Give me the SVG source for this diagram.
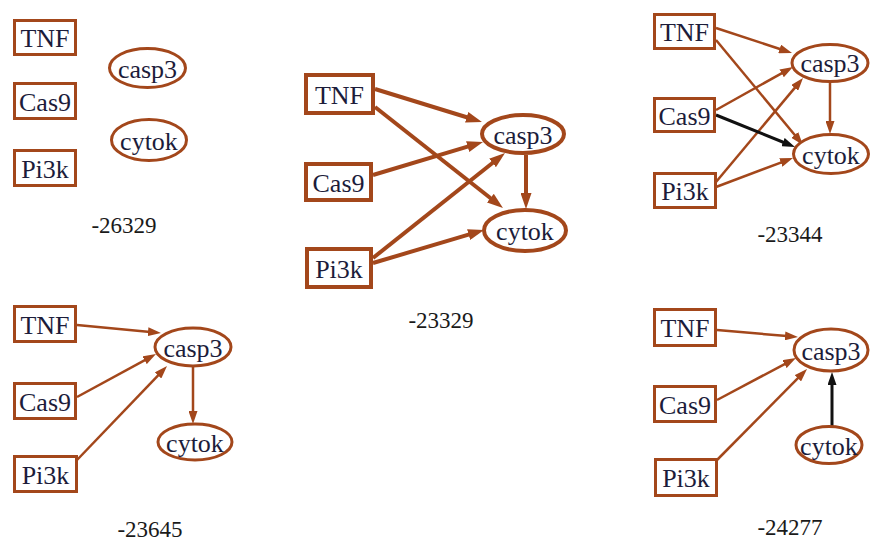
<svg xmlns="http://www.w3.org/2000/svg" width="870" height="541" viewBox="0 0 870 541">
  <defs>
    <style>
      .box { fill: #ffffff; stroke: #a3471b; stroke-width: 3; }
      .oval { fill: #ffffff; stroke: #a3471b; stroke-width: 3; }
      .box.big, .oval.big { stroke-width: 4; }
      text { font-family: 'Liberation Serif', 'Times New Roman', serif; }
      .lbl { font-size: 26px; fill: #1c1c3a; text-anchor: middle; }
      .score { font-size: 23px; fill: #1a1a1a; text-anchor: middle; }
      .edge { fill: none; stroke: #a3471b; stroke-width: 2.5; marker-end: url(#tip); }
      .edge.big { stroke-width: 4; marker-end: url(#tipBig); }
      .edge.dark { stroke: #111111; stroke-width: 3; marker-end: url(#tipDark); }
    </style>
    <marker id="tip" markerUnits="userSpaceOnUse" viewBox="0 0 13 9" markerWidth="13" markerHeight="9" refX="5" refY="4.5" orient="auto">
      <path d="M0,0 L13,4.5 L0,9 z" fill="#a3471b"/>
    </marker>
    <marker id="tipBig" markerUnits="userSpaceOnUse" viewBox="0 0 16 11" markerWidth="16" markerHeight="11" refX="6" refY="5.5" orient="auto">
      <path d="M0,0 L16,5.5 L0,11 z" fill="#a3471b"/>
    </marker>
    <marker id="tipDark" markerUnits="userSpaceOnUse" viewBox="0 0 13 9" markerWidth="13" markerHeight="9" refX="5" refY="4.5" orient="auto">
      <path d="M0,0 L13,4.5 L0,9 z" fill="#111111"/>
    </marker>
  </defs>

  <rect x="0" y="0" width="870" height="541" fill="#ffffff"/>

  <!-- connectors -->
  <g id="connectors">
    <!-- network 2 (centre) -->
    <line class="edge big" x1="375" y1="89" x2="472.4" y2="119.0"/>
    <line class="edge big" x1="375" y1="107" x2="495.1" y2="201.8"/>
    <line class="edge big" x1="373" y1="175" x2="473.4" y2="144.9"/>
    <line class="edge big" x1="373" y1="258" x2="497.2" y2="159.2"/>
    <line class="edge big" x1="373" y1="263" x2="474.4" y2="232.9"/>
    <line class="edge big" x1="526" y1="155" x2="526" y2="199"/>
    <!-- network 3 (top right) -->
    <line class="edge" x1="716" y1="28" x2="784.4" y2="50.5"/>
    <line class="edge" x1="716" y1="40" x2="797.9" y2="138.8"/>
    <line class="edge" x1="716" y1="110" x2="786.0" y2="70.9"/>
    <line class="edge" x1="716" y1="182" x2="797.9" y2="84.1"/>
    <line class="edge" x1="716" y1="187" x2="785.5" y2="160.8"/>
    <line class="edge" x1="830" y1="83" x2="830" y2="126"/>
    <line class="edge dark" x1="716" y1="115" x2="787.6" y2="144.0"/>
    <!-- network 4 (bottom left) -->
    <line class="edge" x1="77" y1="325" x2="153.0" y2="332.2"/>
    <line class="edge" x1="77" y1="397" x2="149.0" y2="357.8"/>
    <line class="edge" x1="77" y1="460" x2="161.5" y2="371.8"/>
    <line class="edge" x1="193" y1="367" x2="193" y2="416"/>
    <!-- network 5 (bottom right) -->
    <line class="edge" x1="717" y1="330" x2="790.0" y2="336.3"/>
    <line class="edge" x1="717" y1="400" x2="788.9" y2="361.8"/>
    <line class="edge" x1="717" y1="460" x2="801.4" y2="374.7"/>
    <line class="edge dark" x1="832" y1="427" x2="832" y2="380"/>
  </g>

  <!-- network 1 (top left) -->
  <g id="n1-tnf"><rect class="box" x="14.5" y="20.5" width="61" height="34"/><text class="lbl" x="45" y="47">TNF</text></g>
  <g id="n1-cas9"><rect class="box" x="14.5" y="83.5" width="61" height="35"/><text class="lbl" x="45" y="111">Cas9</text></g>
  <g id="n1-pi3k"><rect class="box" x="14.5" y="150.5" width="61" height="35"/><text class="lbl" x="45" y="178">Pi3k</text></g>
  <g id="n1-casp3"><ellipse class="oval" cx="147.5" cy="68" rx="38" ry="19.5"/><text class="lbl" x="147.5" y="78">casp3</text></g>
  <g id="n1-cytok"><ellipse class="oval" cx="149" cy="140" rx="37.5" ry="20.5"/><text class="lbl" x="149" y="150">cytok</text></g>
  <text class="score" x="124" y="233">-26329</text>

  <!-- network 2 (centre) -->
  <g id="n2-tnf"><rect class="box big" x="306" y="75" width="67" height="38"/><text class="lbl" x="339.5" y="104">TNF</text></g>
  <g id="n2-cas9"><rect class="box big" x="306" y="164" width="65" height="36"/><text class="lbl" x="338.5" y="192">Cas9</text></g>
  <g id="n2-pi3k"><rect class="box big" x="307" y="249" width="64" height="38"/><text class="lbl" x="339" y="278">Pi3k</text></g>
  <g id="n2-casp3"><ellipse class="oval big" cx="523" cy="134" rx="41" ry="19"/><text class="lbl" x="523" y="144">casp3</text></g>
  <g id="n2-cytok"><ellipse class="oval big" cx="525" cy="230.5" rx="41" ry="20.5"/><text class="lbl" x="525" y="240">cytok</text></g>
  <text class="score" x="441" y="328">-23329</text>

  <!-- network 3 (top right) -->
  <g id="n3-tnf"><rect class="box" x="654.5" y="14.5" width="60" height="34"/><text class="lbl" x="684.5" y="41">TNF</text></g>
  <g id="n3-cas9"><rect class="box" x="654.5" y="98.5" width="60" height="33"/><text class="lbl" x="684.5" y="125">Cas9</text></g>
  <g id="n3-pi3k"><rect class="box" x="654.5" y="173.5" width="61" height="34"/><text class="lbl" x="685" y="200">Pi3k</text></g>
  <g id="n3-casp3"><ellipse class="oval" cx="830" cy="63" rx="38" ry="18.5"/><text class="lbl" x="830" y="72">casp3</text></g>
  <g id="n3-cytok"><ellipse class="oval" cx="831" cy="154" rx="37.5" ry="19.5"/><text class="lbl" x="831" y="164">cytok</text></g>
  <text class="score" x="790" y="242">-23344</text>

  <!-- network 4 (bottom left) -->
  <g id="n4-tnf"><rect class="box" x="14.5" y="306.5" width="61" height="35"/><text class="lbl" x="45" y="334">TNF</text></g>
  <g id="n4-cas9"><rect class="box" x="14.5" y="383.5" width="61" height="35"/><text class="lbl" x="45" y="411">Cas9</text></g>
  <g id="n4-pi3k"><rect class="box" x="14.5" y="456.5" width="62" height="35"/><text class="lbl" x="45.5" y="484">Pi3k</text></g>
  <g id="n4-casp3"><ellipse class="oval" cx="193" cy="347" rx="38" ry="19"/><text class="lbl" x="193" y="357">casp3</text></g>
  <g id="n4-cytok"><ellipse class="oval" cx="195" cy="442" rx="37" ry="18"/><text class="lbl" x="195" y="452">cytok</text></g>
  <text class="score" x="150" y="537">-23645</text>

  <!-- network 5 (bottom right) -->
  <g id="n5-tnf"><rect class="box" x="654.5" y="309.5" width="61" height="36"/><text class="lbl" x="685" y="337">TNF</text></g>
  <g id="n5-cas9"><rect class="box" x="654.5" y="386.5" width="61" height="35"/><text class="lbl" x="685" y="414">Cas9</text></g>
  <g id="n5-pi3k"><rect class="box" x="655.5" y="459.5" width="61" height="36"/><text class="lbl" x="686" y="487">Pi3k</text></g>
  <g id="n5-casp3"><ellipse class="oval" cx="831" cy="350" rx="37" ry="21"/><text class="lbl" x="831" y="360">casp3</text></g>
  <g id="n5-cytok"><ellipse class="oval" cx="829" cy="445" rx="33" ry="18.5"/><text class="lbl" x="829" y="455">cytok</text></g>
  <text class="score" x="790" y="535">-24277</text>
</svg>
